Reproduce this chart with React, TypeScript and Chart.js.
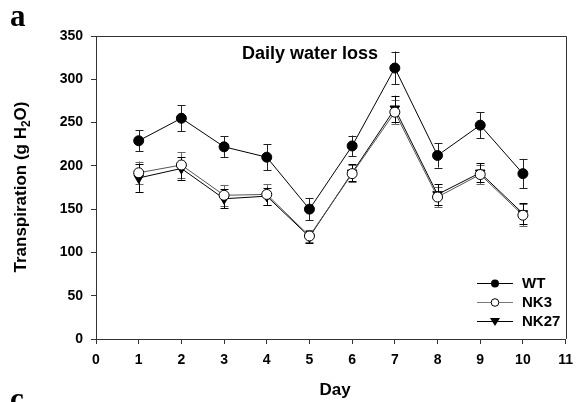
import React, { useEffect, useRef } from "react";
import { Chart, registerables } from "chart.js";

Chart.register(...registerables);

const days = [1, 2, 3, 4, 5, 6, 7, 8, 9, 10];
const wt = [229, 255, 222, 210, 150, 223, 313, 212, 247, 191];
const wtErr = [12, 15, 12, 15, 13, 12, 19, 14, 15, 17];
const nk3 = [192, 201, 166, 167, 119, 191, 262, 164, 190, 143];
const nk3Err = [13, 15, 12, 12, 7, 10, 14, 12, 11, 13];
const nk27 = [186, 197, 162, 165, 118, 192, 266, 167, 192, 145];
const nk27Err = [16, 13, 11, 10, 7, 10, 15, 12, 11, 12];
const seriesNames = ["WT", "NK3", "NK27"];
const chartTitle = "Daily water loss";
const xTitle = "Day";
const yTitleMain = "Transpiration (g H";
const yTitleSub = "2";
const yTitleEnd = "O)";
const panelLabel = "a";
const nextPanelLabel = "c";

const FONT = "'Liberation Sans', Arial, sans-serif";
const errs = [wtErr, nk3Err, nk27Err];
const errColors = ["#222", "#666", "#000"];

const toPts = (arr: number[]) => days.map((d, i) => ({ x: d, y: arr[i] }));

const decorPlugin = {
  id: "decor",
  beforeDatasetsDraw(chart: any) {
    const ctx = chart.ctx;
    const ys = chart.scales.y;
    ctx.save();
    ctx.lineWidth = 1;
    errs.forEach((e, di) => {
      const meta = chart.getDatasetMeta(di);
      const vals = chart.data.datasets[di].data as any[];
      ctx.strokeStyle = errColors[di];
      meta.data.forEach((pt: any, j: number) => {
        const v = vals[j].y;
        const x = Math.round(pt.x) + 0.5;
        const yt = ys.getPixelForValue(v + e[j]);
        const yb = ys.getPixelForValue(v - e[j]);
        ctx.beginPath();
        ctx.moveTo(x, yt);
        ctx.lineTo(x, yb);
        ctx.moveTo(x - 4, Math.round(yt) + 0.5);
        ctx.lineTo(x + 4, Math.round(yt) + 0.5);
        ctx.moveTo(x - 4, Math.round(yb) + 0.5);
        ctx.lineTo(x + 4, Math.round(yb) + 0.5);
        ctx.stroke();
      });
    });
    ctx.restore();
  },
  afterDraw(chart: any) {
    const ctx = chart.ctx;
    const a = chart.chartArea;
    ctx.save();
    // top and right frame
    ctx.strokeStyle = "#333";
    ctx.lineWidth = 1;
    ctx.beginPath();
    ctx.moveTo(Math.round(a.left), Math.round(a.top) + 0.5);
    ctx.lineTo(Math.round(a.right) + 0.5, Math.round(a.top) + 0.5);
    ctx.lineTo(Math.round(a.right) + 0.5, Math.round(a.bottom));
    ctx.stroke();

    ctx.fillStyle = "#000";
    // chart title
    ctx.font = `bold 18px ${FONT}`;
    ctx.textAlign = "center";
    ctx.textBaseline = "alphabetic";
    ctx.fillText(chartTitle, 310, 59);

    // x title
    ctx.font = `bold 17px ${FONT}`;
    ctx.fillText(xTitle, 335, 395);

    // y title with subscript
    ctx.save();
    ctx.translate(26, 187);
    ctx.rotate(-Math.PI / 2);
    ctx.textAlign = "left";
    const mainFont = `bold 17px ${FONT}`;
    const subFont = `bold 12px ${FONT}`;
    ctx.font = mainFont;
    const w1 = ctx.measureText(yTitleMain).width;
    const w3 = ctx.measureText(yTitleEnd).width;
    ctx.font = subFont;
    const w2 = ctx.measureText(yTitleSub).width;
    const total = w1 + w2 + w3;
    let xx = -total / 2;
    ctx.font = mainFont;
    ctx.fillText(yTitleMain, xx, 0);
    xx += w1;
    ctx.font = subFont;
    ctx.fillText(yTitleSub, xx, 4);
    xx += w2;
    ctx.font = mainFont;
    ctx.fillText(yTitleEnd, xx, 0);
    ctx.restore();

    // panel labels
    ctx.textAlign = "left";
    ctx.font = `bold 31px 'Liberation Serif', 'Times New Roman', serif`;
    ctx.fillText(panelLabel, 10, 26);
    ctx.fillText(nextPanelLabel, 10, 409);

    // legend
    const rows = [283, 302, 321];
    const lineColors = ["#000", "#777", "#000"];
    rows.forEach((ry, i) => {
      ctx.strokeStyle = lineColors[i];
      ctx.lineWidth = 1;
      ctx.beginPath();
      ctx.moveTo(477, ry + 0.5);
      ctx.lineTo(513, ry + 0.5);
      ctx.stroke();
      const cx = 495;
      ctx.beginPath();
      if (i === 0) {
        ctx.arc(cx, ry + 0.5, 4, 0, Math.PI * 2);
        ctx.fillStyle = "#000";
        ctx.fill();
      } else if (i === 1) {
        ctx.arc(cx, ry + 0.5, 3.8, 0, Math.PI * 2);
        ctx.fillStyle = "#fff";
        ctx.fill();
        ctx.strokeStyle = "#000";
        ctx.stroke();
      } else {
        ctx.moveTo(cx - 5, ry - 3);
        ctx.lineTo(cx + 5, ry - 3);
        ctx.lineTo(cx, ry + 5);
        ctx.closePath();
        ctx.fillStyle = "#000";
        ctx.fill();
      }
      ctx.fillStyle = "#000";
      ctx.font = `bold 15px ${FONT}`;
      ctx.textBaseline = "middle";
      ctx.fillText(seriesNames[i], 522, ry + 1);
      ctx.textBaseline = "alphabetic";
    });
    ctx.restore();
  },
};

export default function App() {
  const ref = useRef<HTMLCanvasElement | null>(null);
  useEffect(() => {
    document.body.style.margin = "0";
    if (!ref.current) return;
    const chart = new Chart(ref.current, {
      type: "line",
      data: {
        datasets: [
          {
            label: seriesNames[0],
            data: toPts(wt),
            borderColor: "#000",
            borderWidth: 1,
            pointStyle: "circle",
            pointRadius: 5,
            pointBackgroundColor: "#000",
            pointBorderColor: "#000",
            pointBorderWidth: 1,
            tension: 0,
          },
          {
            label: seriesNames[1],
            data: toPts(nk3),
            borderColor: "#555",
            borderWidth: 1,
            pointStyle: "circle",
            pointRadius: 5,
            pointBackgroundColor: "#fff",
            pointBorderColor: "#000",
            pointBorderWidth: 1,
            tension: 0,
          },
          {
            label: seriesNames[2],
            data: toPts(nk27),
            borderColor: "#000",
            borderWidth: 1,
            pointStyle: "triangle",
            rotation: 180,
            pointRadius: 5.5,
            pointBackgroundColor: "#000",
            pointBorderColor: "#000",
            pointBorderWidth: 1,
            tension: 0,
          },
        ],
      },
      options: {
        animation: false,
        responsive: false,
        layout: { padding: { left: 0, top: 36, right: 9, bottom: 0 } },
        plugins: { legend: { display: false }, tooltip: { enabled: false }, title: { display: false } },
        scales: {
          x: {
            type: "linear",
            min: 0,
            max: 11,
            ticks: { stepSize: 1, color: "#000", font: { family: FONT, size: 14, weight: "bold" }, padding: 8, maxRotation: 0 },
            grid: { drawOnChartArea: false, drawTicks: true, tickLength: 5, color: "#333" },
            border: { display: true, color: "#333", width: 1 },
            afterFit: (s: any) => {
              s.height = 63;
            },
          },
          y: {
            min: 0,
            max: 350,
            ticks: { stepSize: 50, color: "#000", font: { family: FONT, size: 14, weight: "bold" }, padding: 8 },
            grid: { drawOnChartArea: false, drawTicks: true, tickLength: 5, color: "#333" },
            border: { display: true, color: "#333", width: 1 },
            afterFit: (s: any) => {
              s.width = 96;
            },
          },
        },
      },
      plugins: [decorPlugin],
    } as any);
    return () => chart.destroy();
  }, []);
  return (
    <div style={{ width: 581, height: 402 }}>
      <canvas ref={ref} width={581} height={402} />
    </div>
  );
}
